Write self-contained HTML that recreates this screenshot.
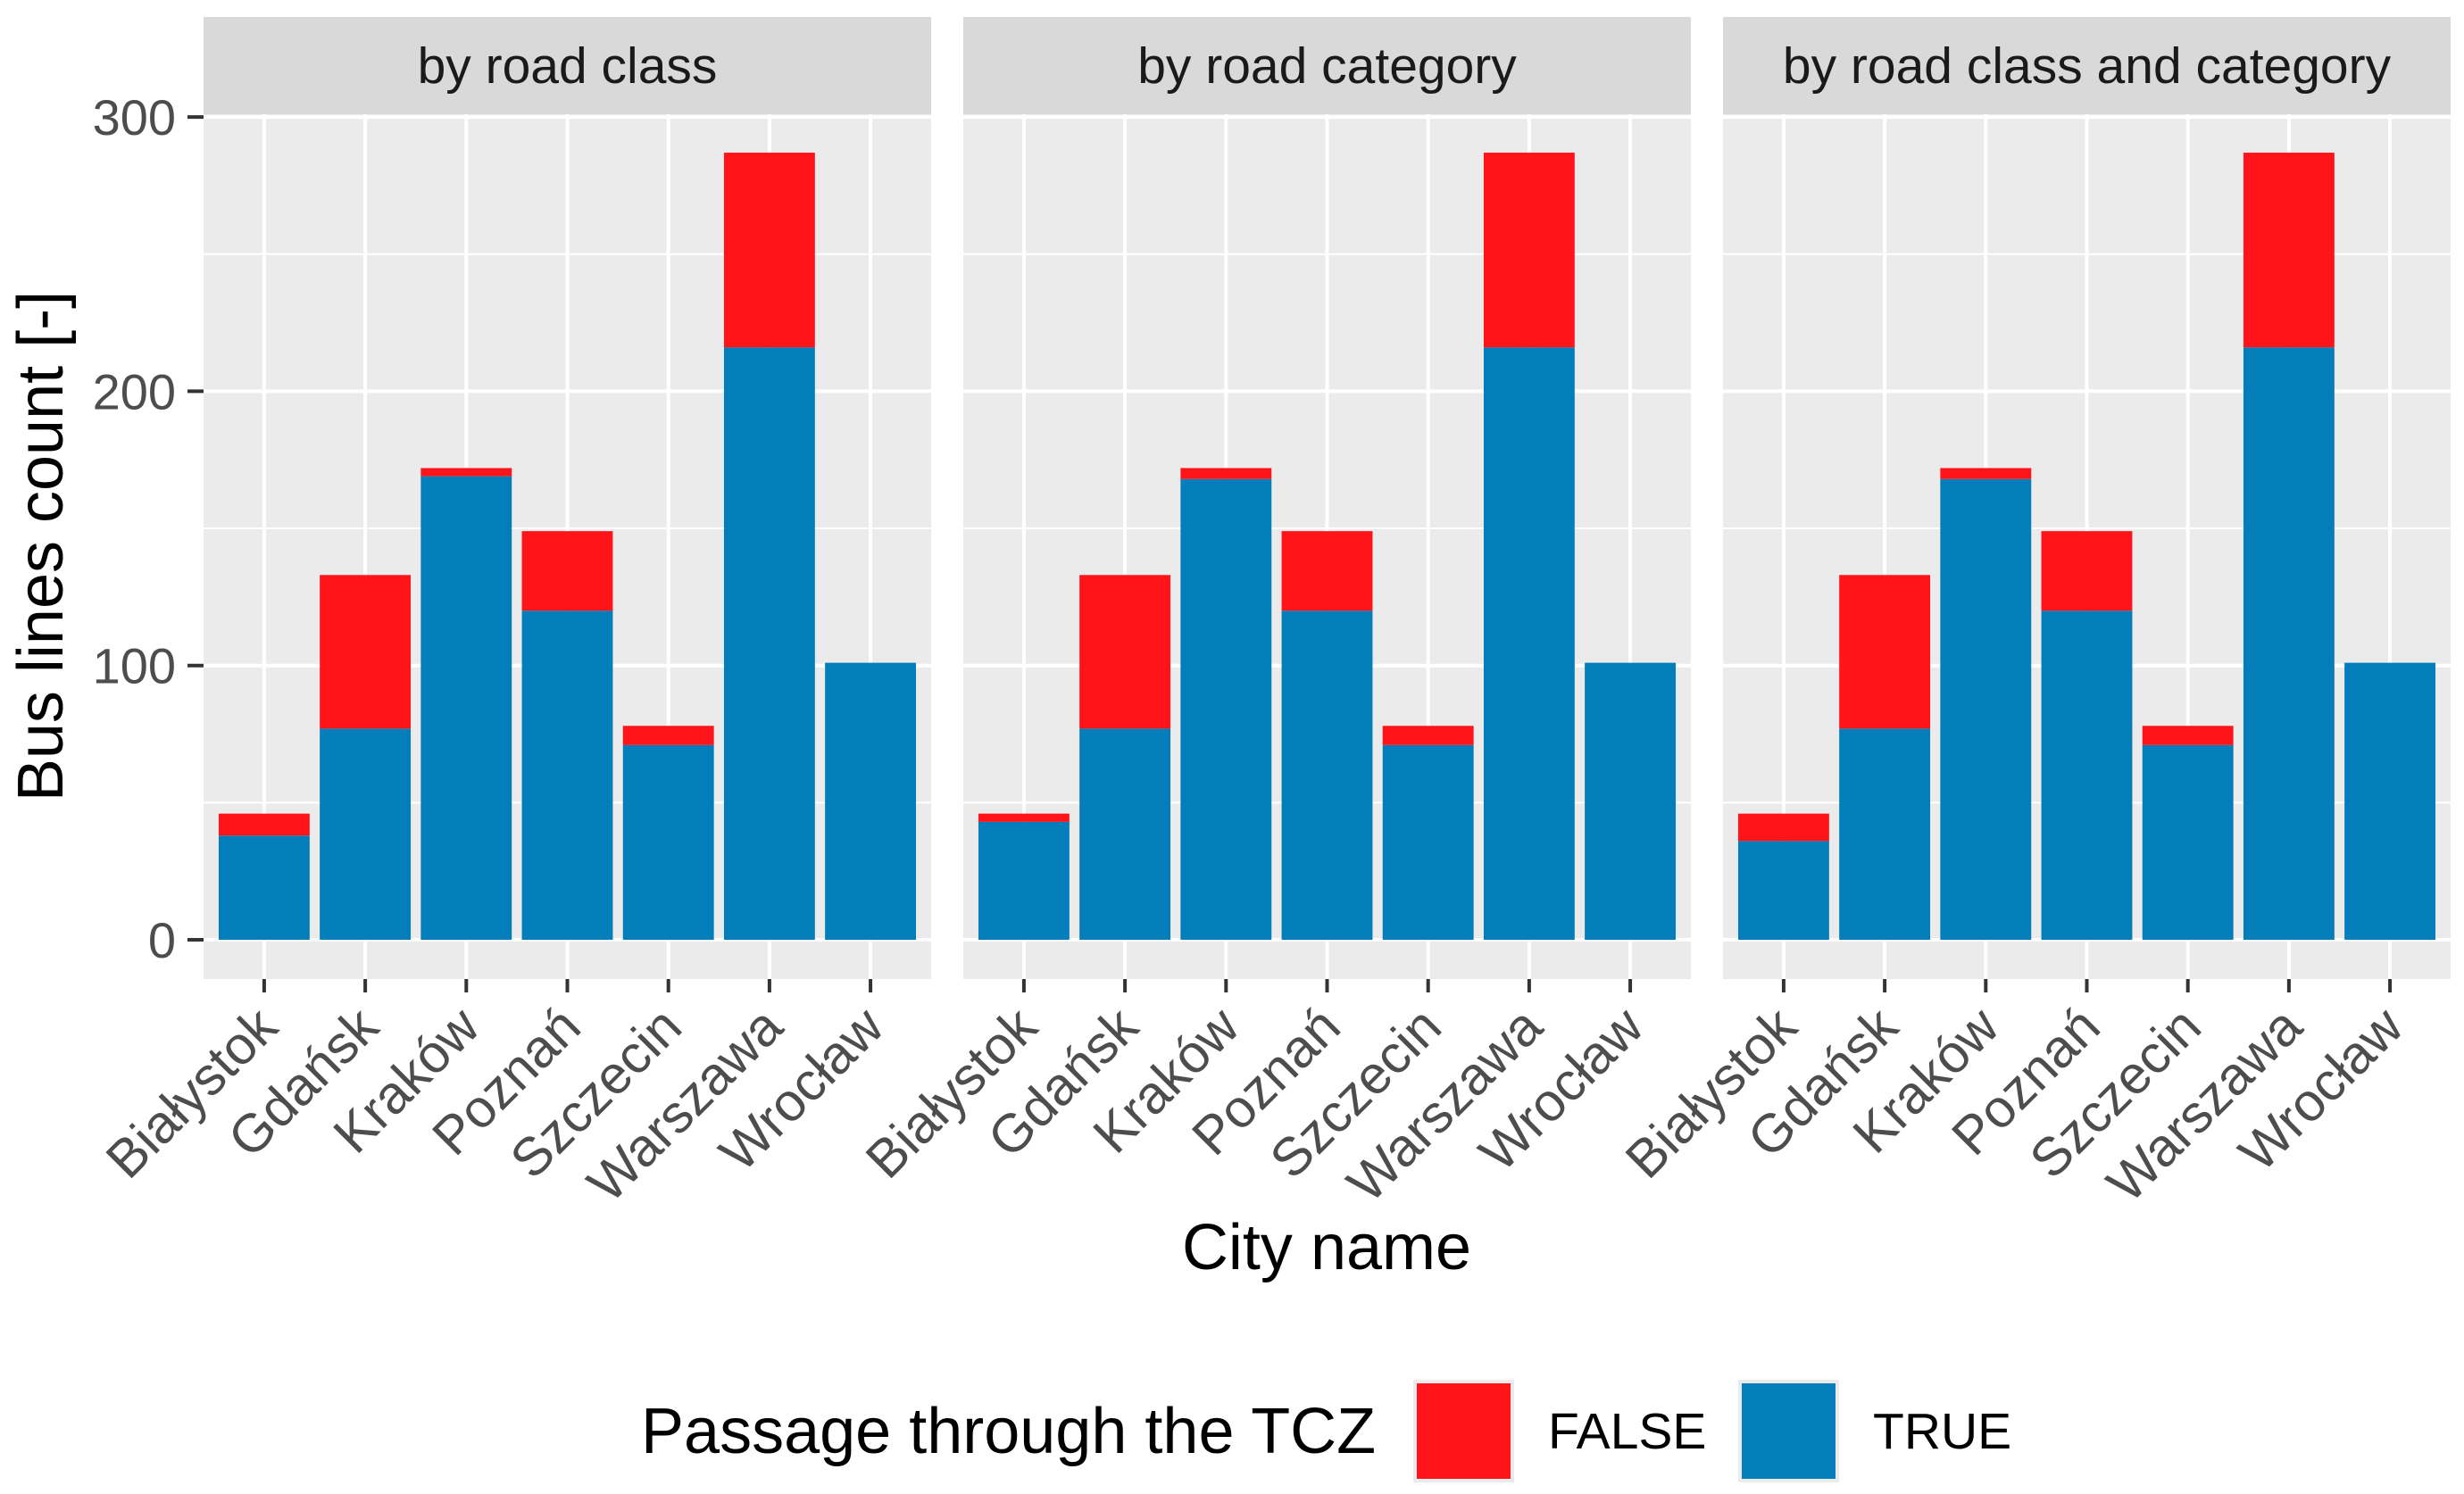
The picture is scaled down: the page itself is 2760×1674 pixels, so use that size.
<!DOCTYPE html>
<html><head><meta charset="utf-8">
<style>
html,body{margin:0;padding:0;background:#fff;}
svg{display:block;font-family:"Liberation Sans",Arial,sans-serif;}
</style></head>
<body>
<svg id="chart" width="2760" height="1674" viewBox="0 0 2760 1674" xmlns="http://www.w3.org/2000/svg">
<g id="plot"></g>
<text transform="translate(70,612) rotate(-90)" text-anchor="middle" font-size="72" fill="#000">Bus lines count [-]</text>
<text x="1486" y="1422" text-anchor="middle" font-size="72" fill="#000">City name</text>
<g>
<text x="718" y="1628" font-size="72" fill="#000">Passage through the TCZ</text>
<rect x="1583" y="1546" width="113" height="115" fill="#EBEBEB"/>
<rect x="1587" y="1550" width="105" height="107" fill="#FF141A"/>
<text x="1734" y="1623" font-size="57" fill="#000">FALSE</text>
<rect x="1947" y="1546" width="113" height="115" fill="#EBEBEB"/>
<rect x="1951" y="1550" width="105" height="107" fill="#037EBA"/>
<text x="2098" y="1623" font-size="57" fill="#000">TRUE</text>
</g>
</svg>
<script>
const categories = ["Białystok","Gdańsk","Kraków","Poznań","Szczecin","Warszawa","Wrocław"];
const panelTitles = ["by road class","by road category","by road class and category"];
const trueValuesClass = [38,77,169,120,71,216,101];
const falseValuesClass = [8,56,3,29,7,71,0];
const trueValuesCategory = [43,77,168,120,71,216,101];
const falseValuesCategory = [3,56,4,29,7,71,0];
const trueValuesBoth = [36,77,168,120,71,216,101];
const falseValuesBoth = [10,56,4,29,7,71,0];
const yTicks = [0,100,200,300];
const yMinor = [50,150,250];

const trueSeries = [trueValuesClass,trueValuesCategory,trueValuesBoth];
const falseSeries = [falseValuesClass,falseValuesCategory,falseValuesBoth];

const NS = "http://www.w3.org/2000/svg";
const root = document.getElementById("plot");
const panelLeft = [228,1079,1930], panelW = 815, panelTop = 128, panelBottom = 1097;
const y0 = 1053, pxPerUnit = 3.073;
function yScale(v){ return y0 - v*pxPerUnit; }
function xScale(p,i){ const unit = panelW/(categories.length-1+1.2); return panelLeft[p] + (0.6+i)*unit; }
const bandUnit = panelW/(categories.length+0.2);
function mk(tag, attrs, parent){
  const el = document.createElementNS(NS, tag);
  for (const k in attrs) el.setAttribute(k, attrs[k]);
  (parent||root).appendChild(el);
  return el;
}
for (let p=0;p<3;p++){
  const L = panelLeft[p];
  const g = mk("g",{});
  
  
  const strip = mk("rect",{x:L,y:19,width:panelW,height:109,fill:"#D9D9D9"},g);
  
  
  const st = mk("text",{x:L+panelW/2,y:93,"text-anchor":"middle","font-size":57,fill:"#1A1A1A"},g);
  st.textContent = panelTitles[p];
  
  
  const bg = mk("rect",{x:L,y:panelTop,width:panelW,height:panelBottom-panelTop,fill:"#EBEBEB"},g);
  
  
  yMinor.forEach(v=>{
    const l = mk("line",{x1:L,x2:L+panelW,y1:yScale(v),y2:yScale(v),stroke:"#fff","stroke-width":2},g);
    
    
  });
  yTicks.forEach(v=>{
    const l = mk("line",{x1:L,x2:L+panelW,y1:yScale(v),y2:yScale(v),stroke:"#fff","stroke-width":4},g);
    
    
  });
  categories.forEach((c,i)=>{
    const x = xScale(p,i);
    const l = mk("line",{x1:x,x2:x,y1:panelTop,y2:panelBottom,stroke:"#fff","stroke-width":4},g);
    
    
  });
  categories.forEach((c,i)=>{
    const x = xScale(p,i), w = bandUnit*0.9;
    const t = trueSeries[p][i], f = falseSeries[p][i];
    const bt = mk("rect",{x:x-w/2,y:yScale(t),width:w,height:yScale(0)-yScale(t),fill:"#037EBA"},g);
    
    
    if (f>0){
      const bf = mk("rect",{x:x-w/2,y:yScale(t+f),width:w,height:yScale(t)-yScale(t+f),fill:"#FF141A"},g);
      
      
    }
    const tk = mk("line",{x1:x,x2:x,y1:panelBottom,y2:1112,stroke:"#333","stroke-width":4},g);
    
    
    const ax = x+18, ay = 1154;
    const lb = mk("text",{x:ax,y:ay,"text-anchor":"end","font-size":60,fill:"#4D4D4D",transform:"rotate(-45 "+ax+" "+ay+")"},g);
    lb.textContent = c;
    
    
  });
}
yTicks.forEach(v=>{
  const tk = mk("line",{x1:210,x2:228,y1:yScale(v),y2:yScale(v),stroke:"#333","stroke-width":4});
  
  
  const lb = mk("text",{x:197,y:yScale(v)+20,"text-anchor":"end","font-size":56,fill:"#4D4D4D"});
  lb.textContent = v;
  
  
});
</script>
</body></html>
